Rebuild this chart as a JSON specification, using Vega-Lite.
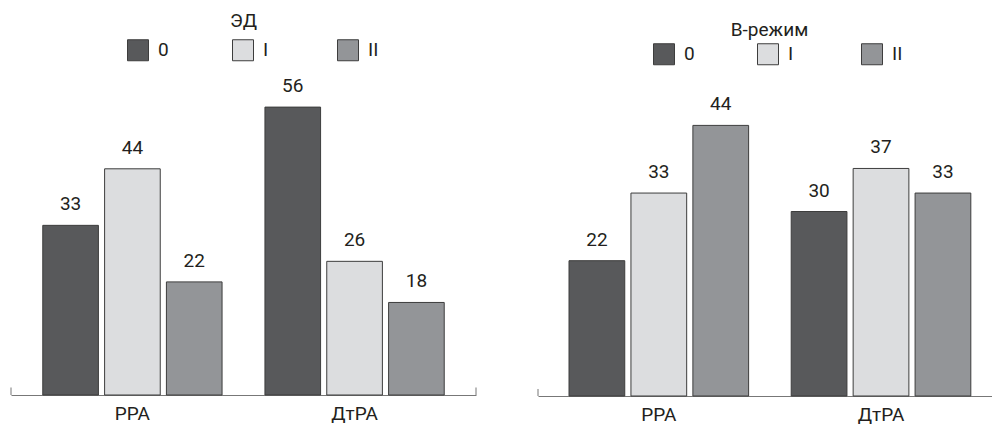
{
  "$schema": "https://vega.github.io/schema/vega-lite/v6.json",
  "padding": {"left": 10, "top": 12, "right": 0, "bottom": 0},
  "background": "white",
  "config": {
    "font": "Roboto",
    "view": {"stroke": null},
    "title": {"fontSize": 19, "fontWeight": "normal", "color": "#231f20", "font": "Roboto"},
    "axis": {"labelFont": "Roboto"},
    "legend": {"labelFont": "Roboto"},
    "text": {"font": "Roboto"}
  },
  "datasets": {
    "ed": [
      {"group": "РРА", "level": "0", "value": 33},
      {"group": "РРА", "level": "I", "value": 44},
      {"group": "РРА", "level": "II", "value": 22},
      {"group": "ДтРА", "level": "0", "value": 56},
      {"group": "ДтРА", "level": "I", "value": 26},
      {"group": "ДтРА", "level": "II", "value": 18}
    ],
    "b": [
      {"group": "РРА", "level": "0", "value": 22},
      {"group": "РРА", "level": "I", "value": 33},
      {"group": "РРА", "level": "II", "value": 44},
      {"group": "ДтРА", "level": "0", "value": 30},
      {"group": "ДтРА", "level": "I", "value": 37},
      {"group": "ДтРА", "level": "II", "value": 33}
    ]
  },
  "bounds": "flush",
  "spacing": 62,
  "resolve": {
    "scale": {"color": "independent", "x": "independent", "y": "independent", "xOffset": "independent"},
    "legend": {"color": "independent"}
  },
  "hconcat": [
    {
      "width": 465,
      "height": 310,
      "title": {"text": "ЭД", "frame": "group", "anchor": "middle", "baseline": "alphabetic", "offset": -7},
      "data": {"name": "ed"},
      "resolve": {"scale": {"x": "independent"}},
      "layer": [
        {
          "layer": [
            {
              "mark": {"type": "bar", "stroke": "#3d3d3d", "strokeWidth": 1},
              "encoding": {
                "x": {"field": "group", "type": "nominal", "sort": ["РРА", "ДтРА"],
                  "scale": {"paddingInner": 0.193, "paddingOuter": 0.143, "align": 0.5},
                  "axis": {"title": null, "labelAngle": 0, "ticks": false, "domainColor": "#777777", "domainWidth": 1, "labelFontSize": 19, "labelPadding": 9, "labelColor": "#231f20"}},
                "xOffset": {"field": "level", "type": "nominal", "sort": ["0", "I", "II"], "scale": {"paddingInner": 0.1, "paddingOuter": 0}},
                "y": {"field": "value", "type": "quantitative", "scale": {"domain": [0, 60.3], "nice": false}, "axis": null},
                "color": {"field": "level", "type": "nominal", "sort": ["0", "I", "II"],
                  "scale": {"domain": ["0", "I", "II"], "range": ["#58595b", "#dcdddf", "#939598"]},
                  "legend": {"title": null, "orient": "none", "legendX": 116, "legendY": -46, "direction": "horizontal", "columns": 3, "gridAlign": "all", "columnPadding": 61, "symbolType": "square", "symbolSize": 441, "symbolStrokeColor": "#3d3d3d", "symbolStrokeWidth": 1, "labelFontSize": 19, "labelOffset": 9, "labelColor": "#231f20"}}
              }
            },
            {
              "mark": {"type": "text", "baseline": "alphabetic", "dy": -15, "fontSize": 19, "color": "#231f20"},
              "encoding": {
                "x": {"field": "group", "type": "nominal", "sort": ["РРА", "ДтРА"]},
                "xOffset": {"field": "level", "type": "nominal", "sort": ["0", "I", "II"]},
                "y": {"field": "value", "type": "quantitative"},
                "text": {"field": "value", "type": "quantitative"}
              }
            }
          ]
        },
        {
          "data": {"values": [{"edge": 0}, {"edge": 1}]},
          "mark": {"type": "rule", "color": "#777777", "strokeWidth": 1},
          "encoding": {
            "x": {"field": "edge", "type": "quantitative", "scale": {"domain": [0, 1]}, "axis": null},
            "y": {"datum": 0},
            "y2": {"datum": 1.46}
          }
        }
      ]
    },
    {
      "width": 455,
      "height": 311,
      "title": {"text": "В-режим", "frame": "group", "anchor": "middle", "baseline": "alphabetic", "offset": -12, "dx": 4},
      "data": {"name": "b"},
      "resolve": {"scale": {"x": "independent"}},
      "layer": [
        {
          "layer": [
            {
              "mark": {"type": "bar", "stroke": "#3d3d3d", "strokeWidth": 1},
              "encoding": {
                "x": {"field": "group", "type": "nominal", "sort": ["РРА", "ДтРА"],
                  "scale": {"paddingInner": 0.1917, "paddingOuter": 0.1197, "align": 0.583},
                  "axis": {"title": null, "labelAngle": 0, "ticks": false, "domainColor": "#777777", "domainWidth": 1, "labelFontSize": 19, "labelPadding": 9, "labelColor": "#231f20"}},
                "xOffset": {"field": "level", "type": "nominal", "sort": ["0", "I", "II"], "scale": {"paddingInner": 0.1, "paddingOuter": 0}},
                "y": {"field": "value", "type": "quantitative", "scale": {"domain": [0, 50.57], "nice": false}, "axis": null},
                "color": {"field": "level", "type": "nominal", "sort": ["0", "I", "II"],
                  "scale": {"domain": ["0", "I", "II"], "range": ["#58595b", "#dcdddf", "#939598"]},
                  "legend": {"title": null, "orient": "none", "legendX": 115, "legendY": -42, "direction": "horizontal", "columns": 3, "gridAlign": "all", "columnPadding": 60, "symbolType": "square", "symbolSize": 441, "symbolStrokeColor": "#3d3d3d", "symbolStrokeWidth": 1, "labelFontSize": 19, "labelOffset": 9, "labelColor": "#231f20"}}
              }
            },
            {
              "mark": {"type": "text", "baseline": "alphabetic", "dy": -15, "fontSize": 19, "color": "#231f20"},
              "encoding": {
                "x": {"field": "group", "type": "nominal", "sort": ["РРА", "ДтРА"]},
                "xOffset": {"field": "level", "type": "nominal", "sort": ["0", "I", "II"]},
                "y": {"field": "value", "type": "quantitative"},
                "text": {"field": "value", "type": "quantitative"}
              }
            }
          ]
        },
        {
          "data": {"values": [{"edge": 0}]},
          "mark": {"type": "rule", "color": "#777777", "strokeWidth": 1},
          "encoding": {
            "x": {"field": "edge", "type": "quantitative", "scale": {"domain": [0, 1]}, "axis": null},
            "y": {"datum": 0},
            "y2": {"datum": 1.14}
          }
        }
      ]
    }
  ]
}
